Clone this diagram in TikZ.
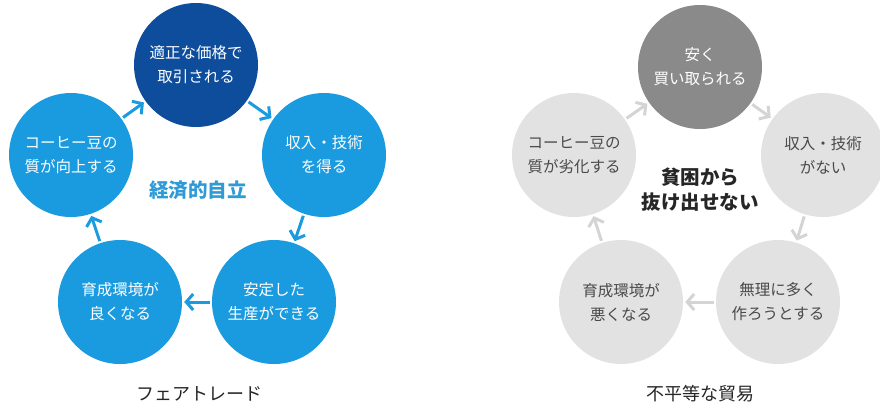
\documentclass[tikz,border=0pt]{standalone}
\usepackage{fontspec}
\setmainfont{Noto Sans CJK JP}
\usetikzlibrary{arrows.meta}
\definecolor{dblue}{HTML}{0E4D9C}
\definecolor{lblue}{HTML}{1A9BDF}
\definecolor{ctblue}{HTML}{2E9AD6}
\definecolor{dgray}{HTML}{8A8A8A}
\definecolor{lgray}{HTML}{E2E2E2}
\definecolor{agray}{HTML}{D4D4D4}
\definecolor{tgray}{HTML}{4A4A4A}
\tikzset{
  bub/.style={circle, minimum size=124pt, inner sep=0pt, align=center,
    font=\fontsize{15.5}{24}\selectfont},
  bluebub/.style={bub, fill=lblue, text=white},
  topblue/.style={bub, fill=dblue, text=white},
  graybub/.style={bub, fill=lgray, text=tgray},
  topgray/.style={bub, fill=dgray, text=white},
  arr/.style={line width=3pt, -{Straight Barb[length=7pt,width=16pt,line width=3pt]}, shorten <=2pt, shorten >=2pt},
  barr/.style={arr, draw=lblue},
  garr/.style={arr, draw=agray},
  ctext/.style={align=center, font=\fontsize{19.5}{25}\selectfont\bfseries},
  title/.style={text=black!85, font=\fontsize{18}{22}\selectfont}
}
\begin{document}
\begin{tikzpicture}[x=1pt,y=-1pt]
\useasboundingbox (0,0) rectangle (880,408);
% left diagram
\node[topblue] (a1) at (196,65) {適正な価格で\\取引される};
\node[bluebub] (a2) at (324,155) {収入・技術\\を得る};
\node[bluebub] (a3) at (274,302) {安定した\\生産ができる};
\node[bluebub] (a4) at (120,302) {育成環境が\\良くなる};
\node[bluebub] (a5) at (71,155) {コーヒー豆の\\質が向上する};
\draw[barr] (a1) -- (a2);
\draw[barr] (a2) -- (a3);
\draw[barr] (a3) -- (a4);
\draw[barr] (a4) -- (a5);
\draw[barr] (a5) -- (a1);
\node[ctext, text=ctblue] (ac) at (198,190) {経済的自立};
\node[title] (at) at (199,394) {フェアトレード};
% right diagram
\node[topgray] (b1) at (700,67) {安く\\買い取られる};
\node[graybub] (b2) at (823,155) {収入・技術\\がない};
\node[graybub] (b3) at (778,302) {無理に多く\\作ろうとする};
\node[graybub] (b4) at (621,302) {育成環境が\\悪くなる};
\node[graybub] (b5) at (574,155) {コーヒー豆の\\質が劣化する};
\draw[garr] (b1) -- (b2);
\draw[garr] (b2) -- (b3);
\draw[garr] (b3) -- (b4);
\draw[garr] (b4) -- (b5);
\draw[garr] (b5) -- (b1);
\node[ctext, text=black!85] (bc) at (700,190) {貧困から\\抜け出せない};
\node[title] (bt) at (700,394) {不平等な貿易};
\end{tikzpicture}
\end{document}
